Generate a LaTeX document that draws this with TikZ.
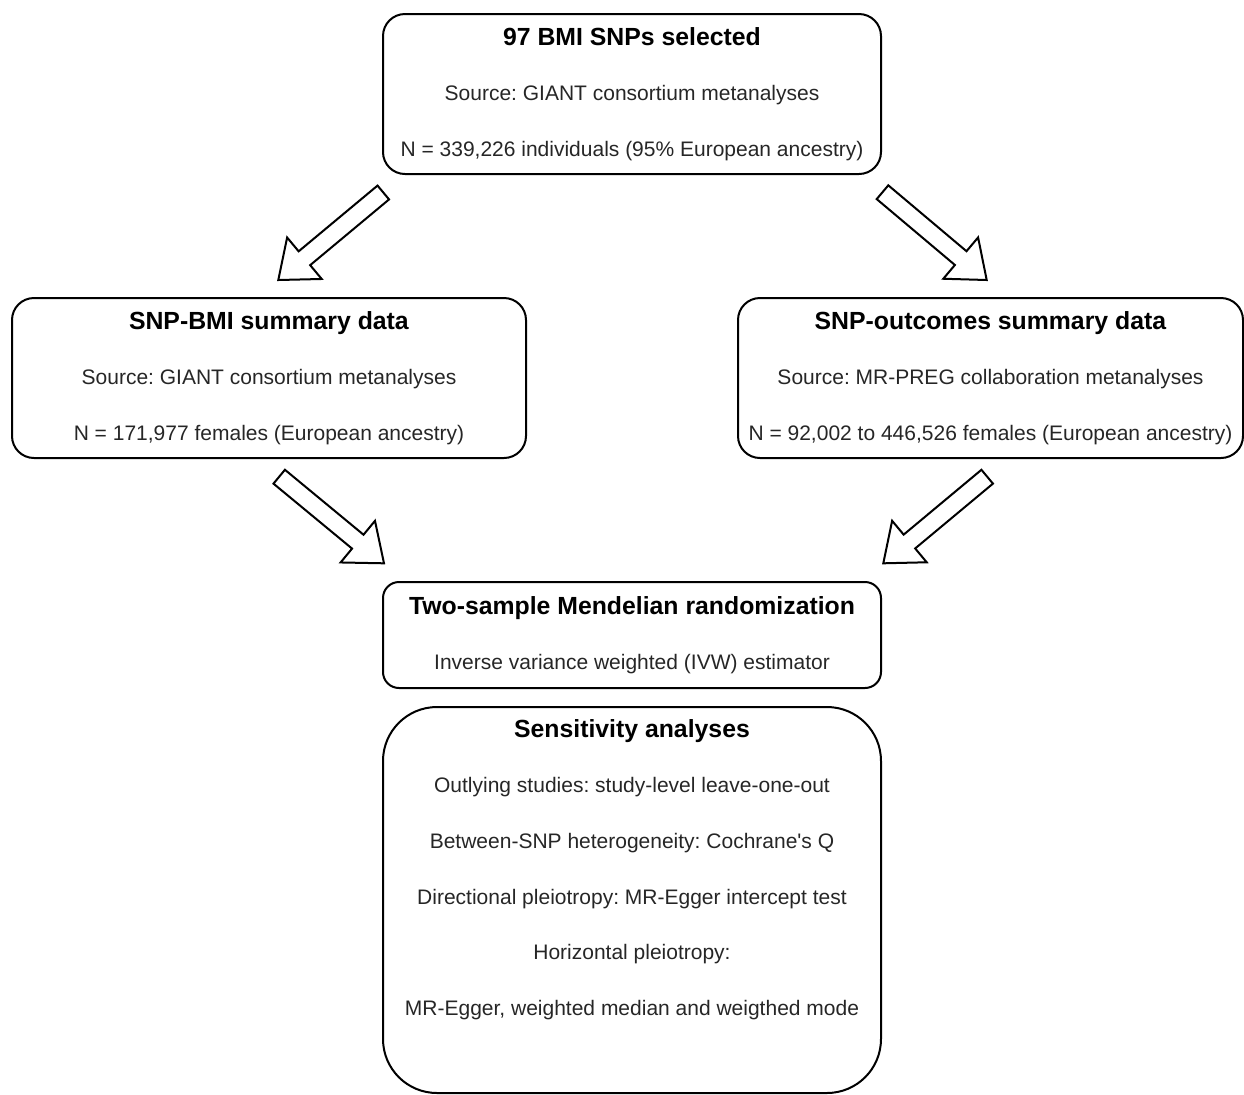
\documentclass[tikz,border=0pt]{standalone}
\usepackage{fontspec}
\setmainfont{Liberation Sans}
\usetikzlibrary{calc, positioning}

\tikzset{
	box/.style={draw, line width=1pt, rounded corners=11pt, align=center, inner xsep=2pt,
		text=black!85, font=\fontsize{10.5}{27.8}\selectfont},
	hollow/.style={draw, line width=1pt, line join=miter, fill=white},
}

\newcommand{\boxtitle}[1]{\textcolor{black}{\fontsize{12.4}{27.8}\selectfont\textbf{#1}}}

% hollow block arrow from #1 (tail middle) to #2 (tip)
\newcommand{\blockarrow}[2]{%
	\coordinate (hb) at ($(#2)!17pt!(#1)$);
	\draw[hollow] ($(#1)!4.5pt!90:(#2)$) -- ($(hb)!4.5pt!-90:(#1)$) -- ($(hb)!13.5pt!-90:(#1)$) -- (#2)
		-- ($(hb)!13.5pt!90:(#1)$) -- ($(hb)!4.5pt!90:(#1)$) -- ($(#1)!4.5pt!-90:(#2)$) -- cycle;
}

\frenchspacing

\begin{document}
\begin{tikzpicture}[x=0.5pt, y=-0.5pt]
	\useasboundingbox (0,0) rectangle (1244,1094);

	\node[box, minimum width=249pt, minimum height=80pt] (snps) at (632,94)
		{\boxtitle{97 BMI SNPs selected}\\Source: GIANT consortium metanalyses\\N = 339,226 individuals (95\% European ancestry)};

	\node[box, minimum width=257pt, minimum height=80pt] (bmi) at (269,378)
		{\boxtitle{SNP-BMI summary data}\\Source: GIANT consortium metanalyses\\N = 171,977 females (European ancestry)};

	\node[box, minimum width=252.5pt, minimum height=80pt] (outc) at (990.5,378)
		{\boxtitle{SNP-outcomes summary data}\\Source: MR-PREG collaboration metanalyses\\N = 92,002 to 446,526 females (European ancestry)};

	\node[box, minimum width=249pt, minimum height=53pt, rounded corners=8pt] (mr) at (632,635)
		{\boxtitle{Two-sample Mendelian randomization}\\Inverse variance weighted (IVW) estimator};

	\node[box, minimum width=249pt, minimum height=193pt, rounded corners=27pt] (sens) at (632,900)
		{\boxtitle{Sensitivity analyses}\\Outlying studies: study-level leave-one-out\\Between-SNP heterogeneity: Cochrane\textquotesingle s Q\\Directional pleiotropy: MR-Egger intercept test\\Horizontal pleiotropy:\\MR-Egger, weighted median and weigthed mode\\[5pt]\mbox{}};

	\begin{scope}
		\coordinate (fromSnpsL) at (383.3,192.5);
		\coordinate (toBmi) at (278.3,280);
		\coordinate (fromSnpsR) at (882.5,192.2);
		\coordinate (toOutc) at (986.7,280);
		\coordinate (fromBmi) at (279.2,476.7);
		\coordinate (toMrL) at (384,563.3);
		\coordinate (fromOutc) at (987.2,476.7);
		\coordinate (toMrR) at (883.3,563.3);
	\end{scope}

	\blockarrow{fromSnpsL}{toBmi}
	\blockarrow{fromSnpsR}{toOutc}
	\blockarrow{fromBmi}{toMrL}
	\blockarrow{fromOutc}{toMrR}
\end{tikzpicture}
\end{document}
